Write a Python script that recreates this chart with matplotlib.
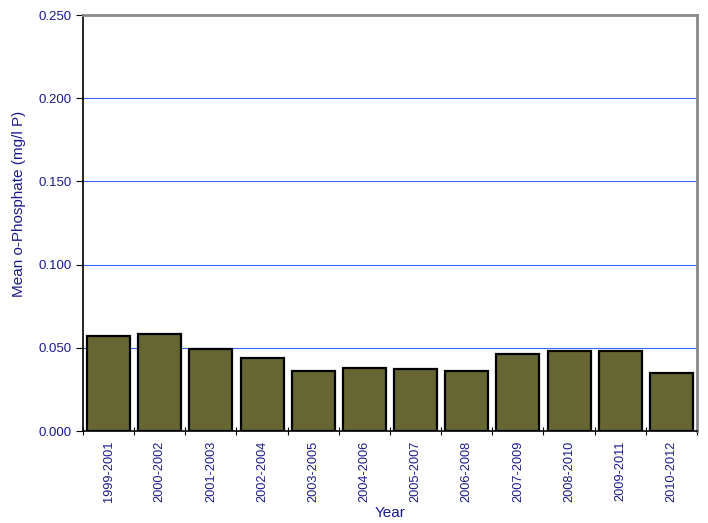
import matplotlib
matplotlib.use("Agg")
import matplotlib.pyplot as plt
import numpy as np

categories = ["1999-2001", "2000-2002", "2001-2003", "2002-2004", "2003-2005", "2004-2006",
              "2005-2007", "2006-2008", "2007-2009", "2008-2010", "2009-2011", "2010-2012"]
values = [0.057, 0.058, 0.049, 0.044, 0.036, 0.038, 0.037, 0.036, 0.046, 0.048, 0.048, 0.035]
yticks = [0.0, 0.05, 0.10, 0.15, 0.20, 0.25]

txt = "#1a1a8c"
plt.rcParams['font.family'] = ['Liberation Sans', 'DejaVu Sans']

fig = plt.figure(figsize=(7.08, 5.23), dpi=100)
ax = fig.add_axes([83/708, 1 - 431/523, (697-83)/708, (431-15)/523])

x = np.arange(len(categories))
ax.bar(x, values, width=0.84, color="#666633", edgecolor="black", linewidth=1.6, zorder=3)

ax.set_xlim(-0.5, len(categories) - 0.5)
ax.set_ylim(0, 0.25)
ax.set_yticks(yticks)
ax.set_yticklabels([f"{v:.3f}" for v in yticks], color=txt, fontsize=9.5)
for v in yticks[1:-1]:
    ax.axhline(v, color="#3366ff", linewidth=0.8, zorder=1)

ax.set_xticks(x)
ax.set_xticklabels(categories, rotation=90, color=txt, fontsize=9.2)
ax.tick_params(axis='x', length=0, pad=7)
ax.set_xticks(np.arange(-0.5, len(categories)), minor=True)
ax.tick_params(axis='x', which='minor', direction='inout', length=6, width=0.8)
ax.tick_params(axis='y', direction='out', length=5, width=0.8, pad=3)

for s in ['left', 'bottom']:
    ax.spines[s].set_color('black')
    ax.spines[s].set_linewidth(1.2)
for s in ['top', 'right']:
    ax.spines[s].set_color('#888888')
    ax.spines[s].set_linewidth(2.0)

ax.set_ylabel("Mean o-Phosphate (mg/l P)", color=txt, fontsize=11, va='center')
ax.set_xlabel("Year", color=txt, fontsize=11, va='center')
ax.yaxis.set_label_coords(-(83 - 19) / (697 - 83), (431 - 204) / (431 - 15))
ax.xaxis.set_label_coords(0.5, -(513 - 431) / (431 - 15))

fig.savefig("out.png", dpi=100)
